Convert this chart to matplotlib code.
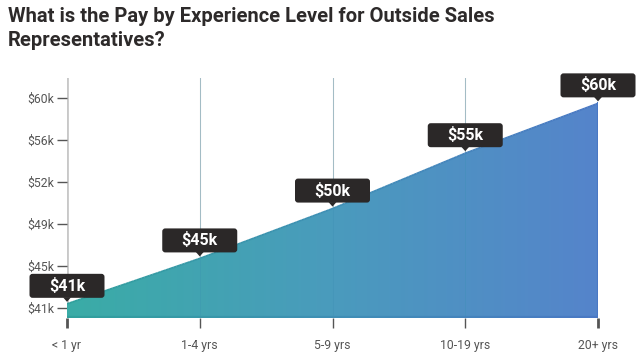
import numpy as np
import matplotlib
matplotlib.use("Agg")
import matplotlib.pyplot as plt
import matplotlib.transforms as mtransforms
from matplotlib.patches import FancyBboxPatch, Polygon
from matplotlib.collections import LineCollection
from matplotlib.colors import LinearSegmentedColormap

# ---- data ----
categories = ["< 1 yr", "1-4 yrs", "5-9 yrs", "10-19 yrs", "20+ yrs"]
pay_k = [41.8, 45.9, 50.4, 55.4, 59.9]
pay_labels = ["$41k", "$45k", "$50k", "$55k", "$60k"]
ytick_values = [41.4, 45.2, 49.0, 52.8, 56.6, 60.4]
ytick_labels = ["$41k", "$45k", "$49k", "$52k", "$56k", "$60k"]
title = "What is the Pay by Experience Level for Outside Sales\nRepresentatives?"

plt.rcParams["font.family"] = ["Roboto", "DejaVu Sans"]

W, H, DPI = 644, 358, 100
fig = plt.figure(figsize=(W / DPI, H / DPI), dpi=DPI)
ax = fig.add_axes([67 / W, 1 - 318 / H, (598 - 67) / W, (318 - 78) / H])

x = np.arange(len(categories))
y = np.array(pay_k)
ymin, ymax = 40.52, 62.19
ax.set_xlim(0, len(categories) - 1)
ax.set_ylim(ymin, ymax)

# gradient fill clipped to area
cmap = LinearSegmentedColormap.from_list("g", ["#3aaca6", "#4a9bbd", "#5584cb"])
grad = np.linspace(0, 1, 256).reshape(1, -1)
im = ax.imshow(grad, cmap=cmap, aspect="auto",
               extent=[0, len(categories) - 1, ymin, ymax], zorder=2)
clip = Polygon(np.column_stack([np.r_[x, x[::-1]], np.r_[y, np.full_like(y, ymin)]]),
               closed=True, transform=ax.transData, facecolor="none", edgecolor="none")
ax.add_patch(clip)
im.set_clip_path(clip)

# gradient edge lines (top and bottom)
edge_cmap = LinearSegmentedColormap.from_list("e", ["#30a09c", "#3f8fb5", "#4a78c4"])
def grad_line(xs, ys, lw):
    xs_f = np.linspace(xs[0], xs[-1], 200)
    ys_f = np.interp(xs_f, xs, ys)
    pts = np.column_stack([xs_f, ys_f]).reshape(-1, 1, 2)
    segs = np.concatenate([pts[:-1], pts[1:]], axis=1)
    lc = LineCollection(segs, cmap=edge_cmap, lw=lw, zorder=3, capstyle="butt")
    lc.set_array(xs_f[:-1] / xs[-1])
    ax.add_collection(lc)
grad_line(x, y, 1.2)
grad_line(np.array([0, x[-1]]), np.array([ymin + 0.1, ymin + 0.1]), 1.6)
ax.plot([x[-1], x[-1]], [ymin, y[-1]], color="#4a78c4", lw=1.5, zorder=3)

# vertical grid lines
for xi in x[1:-1]:
    ax.axvline(xi, color="#cfcfcf", lw=0.8, zorder=1)
    ax.axvline(xi, color="#3a8fb0", lw=0.6, alpha=0.35, zorder=2.5)
ax.axvline(0, color="#c8c8c8", lw=2.0, zorder=1)

for s in ax.spines.values():
    s.set_visible(False)

ax.set_xticks(x)
ax.set_xticklabels(categories, fontsize=8.8, color="#555555")
ax.tick_params(axis="x", length=7, width=1, color="#555555", pad=8)
ax.set_yticks(ytick_values)
ax.set_yticklabels(ytick_labels, fontsize=8.8, color="#555555")
ax.tick_params(axis="y", length=7, width=1, color="#555555", pad=2)
xt = ax.xaxis.get_major_ticks()
xt[0].tick1line.set_color("#c8c8c8"); xt[0].tick1line.set_markeredgewidth(2)
xt[-1].tick1line.set_color("#c8c8c8"); xt[-1].tick1line.set_markeredgewidth(2)

# value label boxes
px = 1 / DPI
for xi, yi, lab in zip(x, y, pay_labels):
    tr = fig.dpi_scale_trans + mtransforms.ScaledTranslation(xi, yi, ax.transData)
    bw, bh, gap = 75 * px, 24 * px, 6 * px
    box = FancyBboxPatch((-bw / 2, gap), bw, bh,
                         boxstyle=f"round,pad=0,rounding_size={3 * px}",
                         transform=tr, facecolor="#2b2828", edgecolor="none",
                         zorder=5, clip_on=False)
    fig.add_artist(box)
    tri = Polygon([(-4 * px, gap + 0.5 * px), (4 * px, gap + 0.5 * px), (0, 2 * px)],
                  closed=True, transform=tr, facecolor="#2b2828", edgecolor="none",
                  zorder=5, clip_on=False)
    fig.add_artist(tri)
    fig.text(0, gap + bh / 2, lab, transform=tr, ha="center", va="center",
             color="white", fontsize=11.5, fontweight="bold", zorder=6)

fig.text(8 / W, 1 - 7 / H, title, ha="left", va="top", fontsize=14.5,
         fontweight="bold", color="#2d2a2a", linespacing=1.3)

fig.savefig("out.png", dpi=DPI)
